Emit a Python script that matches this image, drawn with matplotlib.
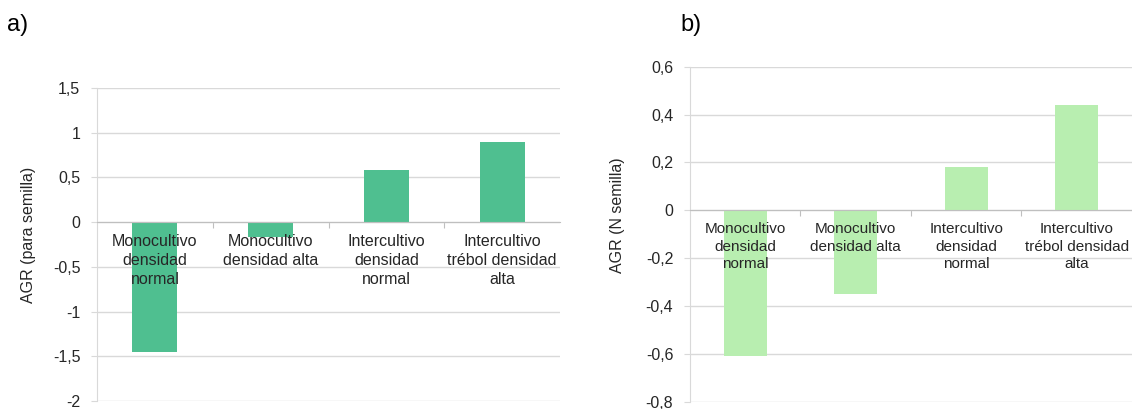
import numpy as np
import matplotlib
matplotlib.use("Agg")
import matplotlib.pyplot as plt
from matplotlib.ticker import FixedLocator, FuncFormatter
from matplotlib.transforms import offset_copy

plt.rcParams['font.family'] = ['Liberation Sans', 'DejaVu Sans']

categories = [
    "Monocultivo\ndensidad\nnormal",
    "Monocultivo\ndensidad alta",
    "Intercultivo\ndensidad\nnormal",
    "Intercultivo\ntrébol densidad\nalta",
]
agr_semilla = [-1.45, -0.17, 0.58, 0.90]
agr_n_semilla = [-0.61, -0.35, 0.18, 0.44]

yticks_a = [-2, -1.5, -1, -0.5, 0, 0.5, 1, 1.5]
yticks_b = [-0.8, -0.6, -0.4, -0.2, 0, 0.2, 0.4, 0.6]

GRID = "#d9d9d9"
ZERO = "#bfbfbf"
TEXT = "#262626"


def comma(v, _pos):
    return f"{v:g}".replace(".", ",")


def draw_panel(ax, values, yticks, color, ylabel, label_xy, catsize):
    x = np.arange(len(values))
    ax.bar(x, values, width=0.39, color=color, zorder=3)
    ax.set_xlim(-0.5, len(values) - 0.5)
    ax.set_ylim(yticks[0], yticks[-1])

    ax.yaxis.set_major_locator(FixedLocator(yticks))
    ax.yaxis.set_major_formatter(FuncFormatter(comma))
    ax.grid(axis="y", color=GRID, linewidth=1.0, zorder=0)
    ax.tick_params(axis="y", length=4, color=GRID, pad=8,
                   labelsize=11.5, labelcolor=TEXT)

    for side in ("top", "right"):
        ax.spines[side].set_visible(False)
    ax.spines["left"].set_color(GRID)
    ax.spines["bottom"].set_position(("data", 0))
    ax.spines["bottom"].set_color(ZERO)
    ax.spines["bottom"].set_zorder(4)

    # small ticks on the zero line between categories
    ax.xaxis.set_major_locator(FixedLocator(x[1:] - 0.5))
    ax.xaxis.set_major_formatter(FuncFormatter(lambda v, p: ""))
    ax.tick_params(axis="x", which="major", length=4, color=ZERO, direction="out")

    # category names sit just under the zero line, on top of the bars
    trans = offset_copy(ax.transData, fig=ax.figure, y=-8.5, units="points")
    for xi, name in zip(x, categories):
        ax.text(xi, 0, name, transform=trans, ha="center", va="top",
                fontsize=catsize, color=TEXT, linespacing=1.32, zorder=6,
                clip_on=False)

    ax.set_ylabel(ylabel, fontsize=11.5, color=TEXT)
    ax.yaxis.set_label_coords(*label_xy)


fig = plt.figure(figsize=(11.32, 4.09), dpi=100)
ax_a = fig.add_axes([0.0857, 0.0196, 0.409, 0.765])
ax_b = fig.add_axes([0.6095, 0.0178, 0.3905, 0.819])

draw_panel(ax_a, agr_semilla, yticks_a, "#4fbf90", "AGR (para semilla)",
           (-0.132, 0.53), 11.5)
draw_panel(ax_b, agr_n_semilla, yticks_b, "#b8eeb0", "AGR (N semilla)",
           (-0.147, 0.556), 11.0)

fig.text(0.006, 0.94, "a)", fontsize=17, color="black", va="center")
fig.text(0.601, 0.94, "b)", fontsize=17, color="black", va="center")

fig.savefig("out.png", dpi=100)
